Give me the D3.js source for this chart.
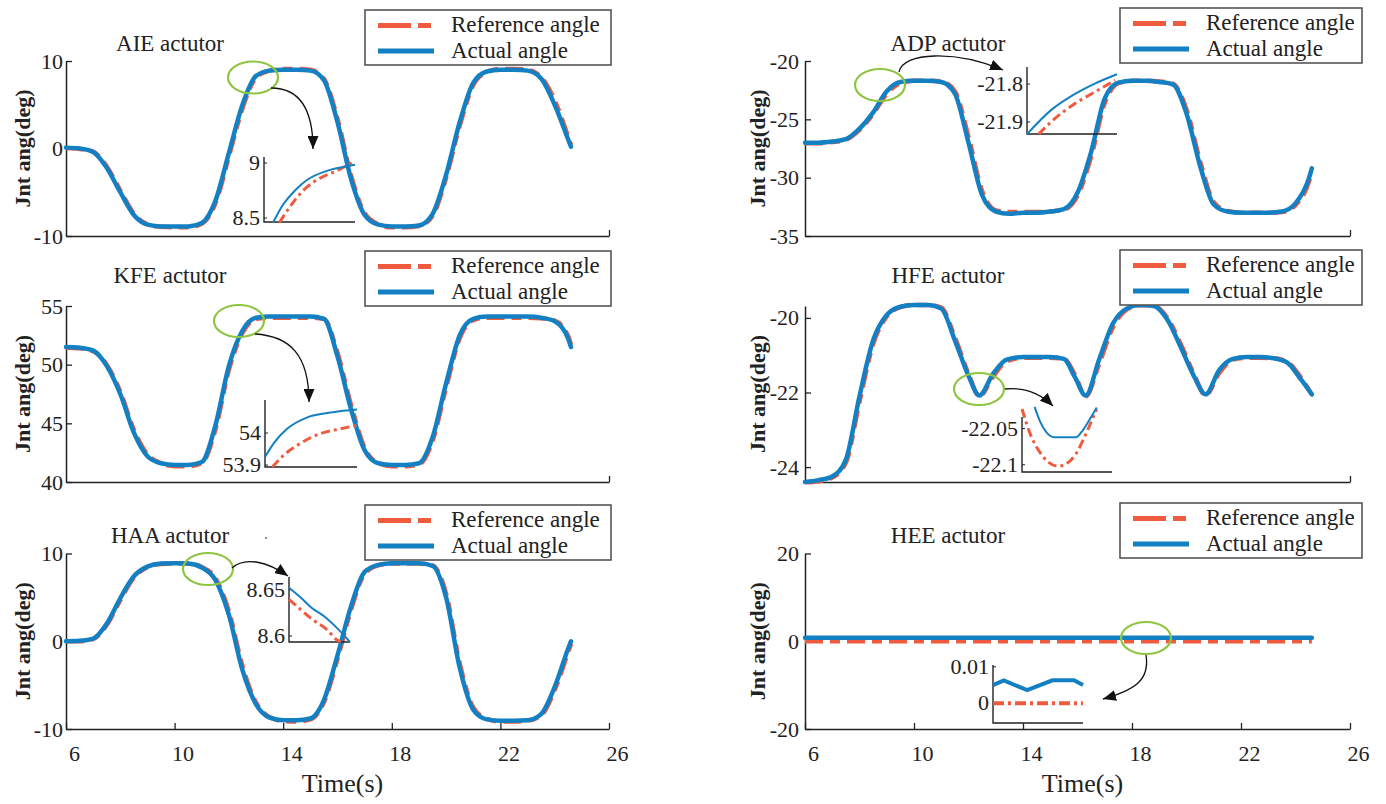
<!DOCTYPE html>
<html>
<head>
<meta charset="utf-8">
<script src="https://cdn.jsdelivr.net/npm/d3@7"></script>
<style>
  body { margin: 0; background: #fff; }
  text { font-family: "Liberation Serif", "Times New Roman", serif; fill: #222; }
</style>
</head>
<body>
<div class="chart"></div>
<script>
// chart data
// ==========================================================================
var timeTicks = [6, 10, 14, 18, 22, 26];
var timeSec = [6, 6.5, 7, 7.5, 8, 8.5, 9, 9.5, 10, 10.5, 11, 11.5, 12, 12.5, 13, 13.5, 14, 14.5, 15, 15.5,
  16, 16.5, 17, 17.5, 18, 18.5, 19, 19.5, 20, 20.5, 21, 21.5, 22, 22.5, 23, 23.5, 24, 24.5, 24.6];
// HFE has sharp dips, so its samples sit on the minima
var hfeTime = [6, 6.5, 7, 7.5, 8, 8.5, 9, 9.5, 10, 10.5, 11, 11.5, 12, 12.4, 12.9, 13.4, 14, 14.5, 15, 15.5,
  15.9, 16.3, 16.8, 17.3, 17.8, 18.3, 18.8, 19.3, 19.8, 20.3, 20.7, 21.2, 21.7, 22.2, 22.7, 23.2, 23.7, 24.2, 24.6];

var aieRef = [0.05, -0.05, -0.35, -2.05, -4.8, -7.45, -8.65, -8.95, -9.0, -9.0, -8.6, -6.3, -0.9, 4.6, 8.1, 8.9, 9.1, 9.1, 9.0, 7.95,
  3.4, -3.1, -7.4, -8.65, -9.0, -9.0, -8.85, -7.7, -3.35, 2.6, 7.25, 8.75, 9.1, 9.1, 9.0, 8.15, 5.5, 1.3, 0.4];
var aieAct = [0.1, 0.0, -0.4, -2.2, -5.0, -7.6, -8.7, -8.9, -8.9, -8.9, -8.5, -6.0, -0.5, 5.0, 8.3, 8.9, 9.0, 9.0, 8.9, 7.8,
  3.0, -3.5, -7.6, -8.7, -8.9, -8.9, -8.8, -7.5, -3.0, 3.0, 7.5, 8.8, 9.0, 9.0, 8.9, 8.0, 5.0, 1.0, 0.2];

var kfeRef = [51.45, 51.4, 51.15, 50.0, 47.7, 44.45, 42.35, 41.6, 41.35, 41.35, 41.6, 44.45, 49.55, 52.7, 53.9, 54.0, 54.0, 54.0, 54.0, 53.9,
  51.0, 46.55, 42.9, 41.6, 41.35, 41.35, 41.5, 43.5, 48.05, 52.25, 53.8, 54.0, 54.0, 54.0, 54.0, 53.95, 53.75, 52.4, 51.7];
var kfeAct = [51.5, 51.45, 51.2, 49.9, 47.5, 44.2, 42.2, 41.6, 41.45, 41.45, 41.7, 44.8, 49.9, 52.9, 54.0, 54.1, 54.1, 54.1, 54.1, 53.9,
  50.7, 46.2, 42.7, 41.6, 41.45, 41.45, 41.6, 43.8, 48.4, 52.5, 53.9, 54.1, 54.1, 54.1, 54.1, 54.0, 53.7, 52.2, 51.5];

var haaRef = [0.0, 0.0, 0.25, 1.85, 4.7, 7.25, 8.45, 8.8, 8.85, 8.85, 8.45, 7.2, 3.4, -2.85, -7.0, -8.65, -9.1, -9.15, -8.9, -6.95,
  -2.0, 3.6, 7.7, 8.65, 8.85, 8.85, 8.85, 8.65, 5.4, -2.5, -7.55, -8.85, -9.15, -9.15, -9.05, -8.45, -5.55, -1.2, -0.3];
var haaAct = [0.0, 0.05, 0.3, 2.0, 4.9, 7.4, 8.5, 8.85, 8.9, 8.85, 8.4, 7.0, 3.0, -3.3, -7.2, -8.7, -9.0, -9.0, -8.8, -6.7,
  -1.6, 4.0, 7.9, 8.7, 8.9, 8.9, 8.9, 8.6, 5.0, -3.0, -7.8, -8.9, -9.05, -9.05, -9.0, -8.3, -5.2, -0.8, 0.0];

var adpRef = [-27.05, -27.05, -26.95, -26.75, -25.9, -24.55, -22.8, -21.9, -21.7, -21.7, -21.75, -22.6, -26.5, -31.15, -32.8, -32.95, -32.95, -32.95, -32.9, -32.75,
  -31.55, -28.2, -23.6, -21.9, -21.7, -21.7, -21.75, -21.95, -24.15, -28.6, -32.1, -32.85, -33.0, -33.0, -33.0, -32.95, -32.35, -30.3, -29.5];
var adpAct = [-27.0, -27.0, -26.9, -26.7, -25.8, -24.4, -22.6, -21.8, -21.7, -21.7, -21.8, -22.8, -27.0, -31.5, -32.9, -33.1, -33.0, -33.0, -32.9, -32.7,
  -31.3, -27.8, -23.2, -21.85, -21.7, -21.7, -21.8, -22.0, -24.5, -29.0, -32.3, -32.9, -33.0, -33.0, -33.0, -32.9, -32.2, -30.0, -29.2];

var hfeRef = [-24.41, -24.38, -24.28, -23.88, -22.25, -20.7, -19.96, -19.71, -19.65, -19.65, -19.72, -20.52, -21.5, -22.1, -21.58, -21.16, -21.07, -21.07, -21.07, -21.09,
  -21.52, -22.1, -21.22, -20.25, -19.78, -19.66, -19.67, -20.0, -20.72, -21.55, -22.08, -21.48, -21.12, -21.07, -21.07, -21.08, -21.18, -21.6, -22.06];
var hfeAct = [-24.4, -24.35, -24.25, -23.8, -22.1, -20.6, -19.92, -19.7, -19.65, -19.65, -19.75, -20.6, -21.55, -22.08, -21.5, -21.12, -21.05, -21.05, -21.05, -21.1,
  -21.58, -22.08, -21.1, -20.15, -19.75, -19.65, -19.68, -20.05, -20.8, -21.6, -22.05, -21.4, -21.1, -21.05, -21.05, -21.08, -21.2, -21.65, -22.05];

var heeRef = [0, 0, 0, 0, 0, 0, 0, 0, 0, 0, 0, 0, 0, 0, 0, 0, 0, 0, 0, 0,
  0, 0, 0, 0, 0, 0, 0, 0, 0, 0, 0, 0, 0, 0, 0, 0, 0, 0, 0];
var heeAct = [0.8, 0.8, 0.8, 0.8, 0.8, 0.8, 0.8, 0.8, 0.8, 0.8, 0.8, 0.8, 0.8, 0.8, 0.8, 0.8, 0.8, 0.8, 0.8, 0.8,
  0.8, 0.8, 0.8, 0.8, 0.8, 0.8, 0.8, 0.8, 0.8, 0.8, 0.8, 0.8, 0.8, 0.8, 0.8, 0.8, 0.8, 0.8, 0.8];

// y tick labels per panel
var aieTicks = [-10, 0, 10];
var kfeTicks = [40, 45, 50, 55];
var haaTicks = [-10, 0, 10];
var adpTicks = [-35, -30, -25, -20];
var hfeTicks = [-24, -22, -20];
var heeTicks = [-20, 0, 20];

// zoomed-in windows (insets)
var aieZoomRefT = [13.085, 13.15, 13.215, 13.305, 13.40, 13.49];
var aieZoomRef = [8.46, 8.62, 8.75, 8.86, 8.93, 9.01];
var aieZoomActT = [13.05, 13.10, 13.17, 13.24, 13.33, 13.42, 13.50];
var aieZoomAct = [8.46, 8.61, 8.75, 8.85, 8.92, 8.96, 8.985];
var aieZoomTicks = [8.5, 9];

var kfeZoomRefT = [12.84, 12.9, 12.99, 13.1, 13.21, 13.3];
var kfeZoomRef = [53.894, 53.93, 53.967, 53.998, 54.013, 54.024];
var kfeZoomActT = [12.8, 12.85, 12.92, 13.03, 13.17, 13.3];
var kfeZoomAct = [53.925, 53.97, 54.013, 54.049, 54.065, 54.073];
var kfeZoomTicks = [53.9, 54];

var haaZoomRefT = [10.9, 11.0, 11.1, 11.21, 11.29, 11.325];
var haaZoomRef = [8.6395, 8.628, 8.617, 8.607, 8.596, 8.5935];
var haaZoomActT = [10.9, 11.0, 11.09, 11.19, 11.29, 11.4];
var haaZoomAct = [8.652, 8.641, 8.630, 8.621, 8.609, 8.5935];
var haaZoomTicks = [8.6, 8.65];

var adpZoomRefT = [8.465, 8.535, 8.655, 8.78, 8.89];
var adpZoomRef = [-21.932, -21.899, -21.855, -21.82, -21.79];
var adpZoomActT = [8.4, 8.535, 8.655, 8.78, 8.9];
var adpZoomAct = [-21.932, -21.868, -21.829, -21.798, -21.774];
var adpZoomTicks = [-21.9, -21.8];

var hfeZoomRefT = [12.2, 12.25, 12.3, 12.35, 12.4, 12.45, 12.5, 12.55, 12.615];
var hfeZoomRef = [-22.023, -22.06, -22.083, -22.097, -22.102, -22.098, -22.085, -22.06, -22.023];
var hfeZoomActT = [12.27, 12.3, 12.335, 12.38, 12.5, 12.53, 12.57, 12.615];
var hfeZoomAct = [-22.020, -22.04, -22.055, -22.062, -22.062, -22.055, -22.04, -22.021];
var hfeZoomTicks = [-22.1, -22.05];

var heeZoomRefT = [18, 18.5];
var heeZoomRef = [0, 0];
var heeZoomActT = [18, 18.06, 18.19, 18.33, 18.45, 18.5];
var heeZoomAct = [0.005, 0.0063, 0.0036, 0.0063, 0.0063, 0.005];
var heeZoomTicks = [0, 0.01];

// set up chart configurations
// ==========================================================================
var svgWidth = 1386;
var svgHeight = 804;

var refColor = "#F05A3F";
var actColor = "#1380C3";
var ringColor = "#8DC540";
var inkColor = "#222";
var serif = "'Liberation Serif', 'Times New Roman', serif";

// pixel extents of the two columns and three rows of plots
var colX = [[66, 609], [805, 1350]];
var rowY = [[61, 236], [306, 482], [553.5, 729]];
var legendX = [365, 1120];
var legendY = [[10, 251, 505], [8, 250, 503]];
var titleY = [51, 283, 543];
var titleX = [170, 948];
var yLabelX = [22, 757];

var panels = [
  { title: "AIE actutor", col: 0, row: 0, t: timeSec, ref: aieRef, act: aieAct, yDomain: [-10, 10], yTicks: aieTicks,
    ring: [253, 77.5], arrow: "M271,88 C300,88 313,110 313,149",
    zoom: { box: [264, 355, 157, 222], xDomain: [13.0, 13.5], yDomain: [8.464, 9.055], ticks: aieZoomTicks,
      refT: aieZoomRefT, ref: aieZoomRef, actT: aieZoomActT, act: aieZoomAct } },
  { title: "KFE actutor", col: 0, row: 1, t: timeSec, ref: kfeRef, act: kfeAct, yDomain: [40, 55], yTicks: kfeTicks,
    ring: [239, 321], arrow: "M255,334 C290,336 309,355 309,402",
    zoom: { box: [265, 357, 400, 467], xDomain: [12.8, 13.3], yDomain: [53.894, 54.103], ticks: kfeZoomTicks,
      refT: kfeZoomRefT, ref: kfeZoomRef, actT: kfeZoomActT, act: kfeZoomAct } },
  { title: "HAA actutor", col: 0, row: 2, t: timeSec, ref: haaRef, act: haaAct, yDomain: [-10, 10], yTicks: haaTicks,
    ring: [208, 569], arrow: "M232,568 C245,556 268,562 288,576",
    zoom: { box: [289, 350, 577, 642], xDomain: [10.9, 11.4], yDomain: [8.5935, 8.6637], ticks: haaZoomTicks,
      refT: haaZoomRefT, ref: haaZoomRef, actT: haaZoomActT, act: haaZoomAct } },
  { title: "ADP actutor", col: 1, row: 0, t: timeSec, ref: adpRef, act: adpAct, yDomain: [-35, -20], yTicks: adpTicks,
    ring: [880, 85], arrow: "M899,72 C903,52 955,50 1003,70",
    zoom: { box: [1027, 1117, 67, 134], xDomain: [8.4, 8.9], yDomain: [-21.9316, -21.755], ticks: adpZoomTicks,
      refT: adpZoomRefT, ref: adpZoomRef, actT: adpZoomActT, act: adpZoomAct } },
  { title: "HFE actutor", col: 1, row: 1, t: hfeTime, ref: hfeRef, act: hfeAct, yDomain: [-24.4, -19.68], yTicks: hfeTicks,
    ring: [979, 389], arrow: "M1005,389 C1025,387 1040,393 1053,406",
    zoom: { box: [1022, 1112, 417, 472], xDomain: [12.2, 12.7], yDomain: [-22.110, -22.034], ticks: hfeZoomTicks,
      refT: hfeZoomRefT, ref: hfeZoomRef, actT: hfeZoomActT, act: hfeZoomAct } },
  { title: "HEE actutor", col: 1, row: 2, t: timeSec, ref: heeRef, act: heeAct, yDomain: [-20, 20], yTicks: heeTicks,
    ring: [1146, 638], arrow: "M1146,655 C1150,680 1135,690 1103,699", thick: true,
    zoom: { box: [993, 1083, 665, 723], xDomain: [18, 18.5], yDomain: [-0.0054, 0.0105], ticks: heeZoomTicks,
      refT: heeZoomRefT, ref: heeZoomRef, actT: heeZoomActT, act: heeZoomAct, linear: true } }
];

var svg = d3
  .select(".chart")
  .append("svg")
  .attr("width", svgWidth)
  .attr("height", svgHeight);

// black arrow head for the call-out arrows
svg.append("defs").append("marker")
  .attr("id", "head")
  .attr("markerUnits", "userSpaceOnUse")
  .attr("markerWidth", 13)
  .attr("markerHeight", 11)
  .attr("refX", 13)
  .attr("refY", 5.5)
  .attr("orient", "auto")
  .append("path")
  .attr("d", "M0,0 L13,5.5 L0,11 Z")
  .attr("fill", "#111");

function styleAxis(sel) {
  sel.attr("font-family", serif).attr("font-size", 22).attr("color", inkColor);
  sel.select(".domain").attr("stroke-width", 1.5);
  sel.selectAll(".tick line").attr("stroke-width", 1.3);
  sel.selectAll("text").style("font-family", serif);
}

// draw one subplot
// ==========================================================================
function drawPanel(p) {
  var xr = colX[p.col];
  var yr = rowY[p.row];
  var g = svg.append("g");

  var xLinearScale = d3.scaleLinear().domain([6, 26]).range(xr);
  var yLinearScale = d3.scaleLinear().domain(p.yDomain).range([yr[1], yr[0]]);

  // axes, ticks pointing inwards like matlab
  var bottomRow = p.row === 2;
  var bottomAxis = d3.axisBottom(xLinearScale)
    .tickValues(bottomRow ? timeTicks : [26])
    .tickSizeInner(-6)
    .tickSizeOuter(0)
    .tickPadding(16)
    .tickFormat(d => bottomRow ? String(d) : "");
  g.append("g")
    .attr("transform", `translate(0, ${yr[1]})`)
    .call(bottomAxis)
    .call(styleAxis)
    .selectAll("text").attr("dx", 8);

  var leftAxis = d3.axisLeft(yLinearScale)
    .tickValues(p.yTicks)
    .tickSizeInner(-6)
    .tickSizeOuter(0)
    .tickPadding(p.col === 0 ? 3 : 6)
    .tickFormat(d => String(d));
  g.append("g")
    .attr("transform", `translate(${xr[0]}, 0)`)
    .call(leftAxis)
    .call(styleAxis);

  // curves: reference first, actual on top
  var line = d3.line().curve(d3.curveMonotoneX);
  var refPts = p.t.map((t, i) => [xLinearScale(t), yLinearScale(p.ref[i])]);
  var actPts = p.t.map((t, i) => [xLinearScale(t), yLinearScale(p.act[i])]);

  g.append("path")
    .attr("d", line(refPts))
    .attr("fill", "none")
    .attr("stroke", refColor)
    .attr("stroke-width", 4.5)
    .attr("stroke-dasharray", "18,7,10,7");

  g.append("path")
    .attr("d", line(actPts))
    .attr("fill", "none")
    .attr("stroke", actColor)
    .attr("stroke-width", 4.5)
    .attr("stroke-linecap", "round");

  // panel title and y label
  g.append("text")
    .attr("x", titleX[p.col])
    .attr("y", titleY[p.row])
    .attr("text-anchor", "middle")
    .attr("font-size", 23)
    .text(p.title);

  g.append("text")
    .attr("transform", `translate(${yLabelX[p.col]}, ${(yr[0] + yr[1]) / 2}) rotate(-90)`)
    .attr("text-anchor", "middle")
    .attr("dy", "0.35em")
    .attr("font-size", 22)
    .attr("font-weight", "bold")
    .text("Jnt ang(deg)");

  if (bottomRow) {
    g.append("text")
      .attr("x", (xr[0] + xr[1]) / 2 + 5)
      .attr("y", 792)
      .attr("text-anchor", "middle")
      .attr("font-size", 26)
      .text("Time(s)");
  }

  drawLegend(g, legendX[p.col], legendY[p.col][p.row]);

  // green ring + arrow to the zoom window
  g.append("ellipse")
    .attr("cx", p.ring[0])
    .attr("cy", p.ring[1])
    .attr("rx", 25)
    .attr("ry", 16)
    .attr("fill", "none")
    .attr("stroke", ringColor)
    .attr("stroke-width", 2.2);

  g.append("path")
    .attr("d", p.arrow)
    .attr("fill", "none")
    .attr("stroke", "#111")
    .attr("stroke-width", 1.3)
    .attr("marker-end", "url(#head)");

  drawInset(g, p.zoom, p.thick);
}

function drawLegend(g, x0, y0) {
  var w = x0 === legendX[0] ? 246 : 242;
  g.append("rect")
    .attr("x", x0)
    .attr("y", y0)
    .attr("width", w)
    .attr("height", 55)
    .attr("fill", "#fff")
    .attr("stroke", "#555")
    .attr("stroke-width", 1.6);

  var items = [
    { label: "Reference angle", color: refColor, dash: "33,7,13,7", dy: 15.5 },
    { label: "Actual angle", color: actColor, dash: null, dy: 41 }
  ];
  items.forEach(function(it) {
    g.append("line")
      .attr("x1", x0 + 13)
      .attr("x2", x0 + 69)
      .attr("y1", y0 + it.dy)
      .attr("y2", y0 + it.dy)
      .attr("stroke", it.color)
      .attr("stroke-width", 5)
      .attr("stroke-dasharray", it.dash);
    g.append("text")
      .attr("x", x0 + 86)
      .attr("y", y0 + it.dy + 6.5)
      .attr("font-size", 23)
      .text(it.label);
  });
}

function drawInset(g, z, thick) {
  var b = z.box;
  var xs = d3.scaleLinear().domain(z.xDomain).range([b[0], b[1]]);
  var ys = d3.scaleLinear().domain(z.yDomain).range([b[3], b[2]]);

  g.append("path")
    .attr("d", `M${b[0]},${b[2]} V${b[3]} H${b[1]}`)
    .attr("fill", "none")
    .attr("stroke", inkColor)
    .attr("stroke-width", 1.4);

  z.ticks.forEach(function(v) {
    g.append("line")
      .attr("x1", b[0]).attr("x2", b[0] + 3)
      .attr("y1", ys(v)).attr("y2", ys(v))
      .attr("stroke", inkColor);
    g.append("text")
      .attr("x", b[0] - 4)
      .attr("y", ys(v))
      .attr("dy", "0.32em")
      .attr("text-anchor", "end")
      .attr("font-size", 22)
      .text(String(v));
  });

  var line = d3.line().curve(z.linear ? d3.curveLinear : d3.curveMonotoneX);
  g.append("path")
    .attr("d", line(z.refT.map((t, i) => [xs(t), ys(z.ref[i])])))
    .attr("fill", "none")
    .attr("stroke", refColor)
    .attr("stroke-width", thick ? 4 : 3)
    .attr("stroke-dasharray", thick ? "11,4,3,4" : "9,4,3,4");

  g.append("path")
    .attr("d", line(z.actT.map((t, i) => [xs(t), ys(z.act[i])])))
    .attr("fill", "none")
    .attr("stroke", actColor)
    .attr("stroke-width", thick ? 4 : 2);
}

panels.forEach(drawPanel);

// small stray mark that sits above the HAA plot in the original
svg.append("circle").attr("cx", 266).attr("cy", 538).attr("r", 0.9).attr("fill", "#555");
</script>
</body>
</html>
